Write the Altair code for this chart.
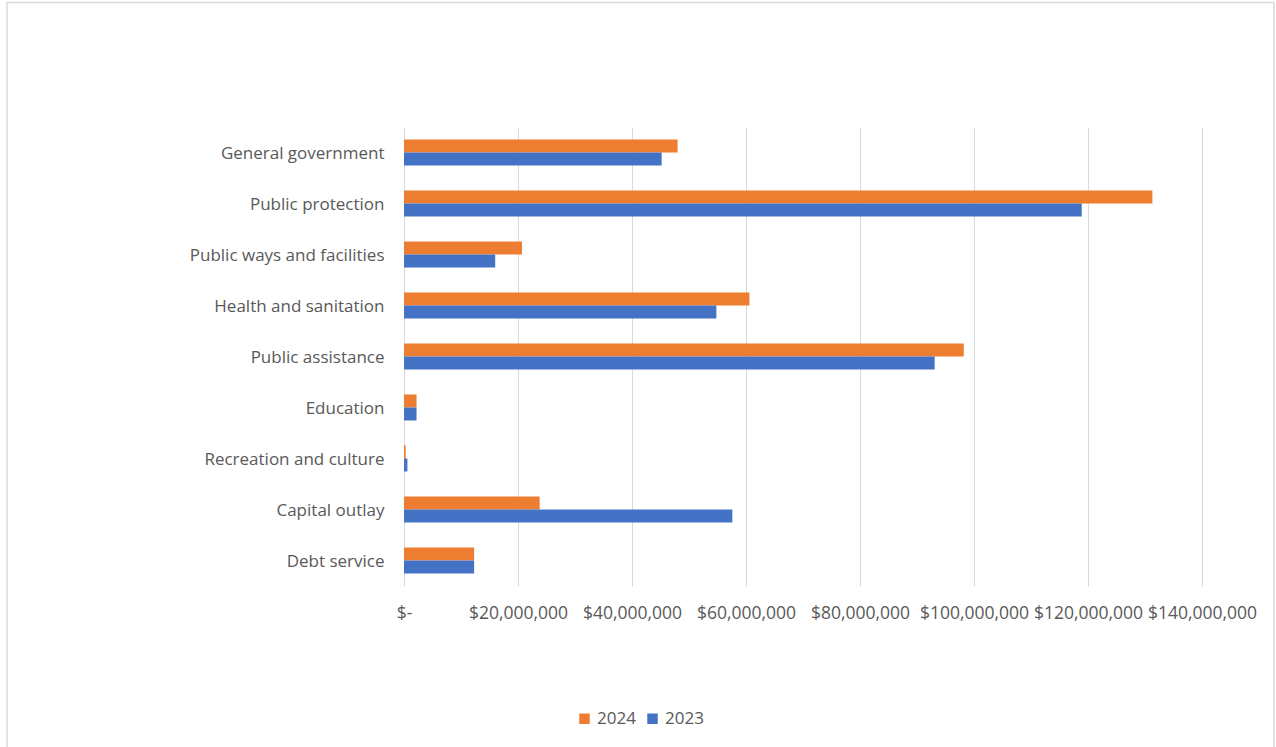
import altair as alt
import pandas as pd

categories = [
    "General government",
    "Public protection",
    "Public ways and facilities",
    "Health and sanitation",
    "Public assistance",
    "Education",
    "Recreation and culture",
    "Capital outlay",
    "Debt service",
]
values_2024 = [48.0e6, 131.3e6, 20.7e6, 60.6e6, 98.2e6, 2.2e6, 0.3e6, 23.8e6, 12.3e6]
values_2023 = [45.2e6, 118.9e6, 16.0e6, 54.8e6, 93.1e6, 2.2e6, 0.6e6, 57.6e6, 12.3e6]
years = ["2024", "2023"]
colors = ["#ED7D31", "#4472C4"]
x_ticks = [0, 20e6, 40e6, 60e6, 80e6, 100e6, 120e6, 140e6]

rows = []
for c, v24, v23 in zip(categories, values_2024, values_2023):
    rows.append({"category": c, "year": "2024", "value": v24})
    rows.append({"category": c, "year": "2023", "value": v23})
df = pd.DataFrame(rows)

W, H = 798, 459
PL, PT = 404, 127
PR = 1276 - PL - W
PB = 747 - PT - H

FONT = "Open Sans"
TXT = "#595959"

bars = alt.Chart(df).mark_bar().encode(
    y=alt.Y(
        "category:N",
        sort=categories,
        title=None,
        scale=alt.Scale(paddingInner=0.49, paddingOuter=0.245),
        axis=alt.Axis(
            domain=False, ticks=False, labelPadding=20, labelFontSize=17,
            labelFont=FONT, labelColor=TXT, labelLimit=300, labelOffset=1,
        ),
    ),
    yOffset=alt.YOffset("year:N", sort=years),
    x=alt.X(
        "value:Q",
        title=None,
        scale=alt.Scale(domain=[0, 140e6], nice=False),
        axis=alt.Axis(
            values=x_ticks,
            labelExpr="datum.value == 0 ? '$-' : '$' + format(datum.value, ',')",
            domain=False, ticks=False, grid=True, gridColor="#D9D9D9",
            labelPadding=18, labelFontSize=17.5, labelFont=FONT, labelColor=TXT,
            labelFlush=False, labelOverlap=False,
        ),
    ),
    color=alt.Color(
        "year:N",
        sort=years,
        scale=alt.Scale(domain=years, range=colors),
        legend=alt.Legend(
            title=None, orient="none", direction="horizontal",
            legendX=172, legendY=583, symbolType="square", symbolSize=110,
            symbolStrokeWidth=0, labelFontSize=17, labelFont=FONT,
            labelColor=TXT, columnPadding=8, labelOffset=4,
        ),
    ),
)

frame = alt.Chart(pd.DataFrame({"k": [0]})).mark_rect(
    fill=None, stroke="#D9D9D9", strokeWidth=1.5
).encode(
    x=alt.value(7 - PL),
    x2=alt.value(1274 - PL),
    y=alt.value(2.5 - PT),
    y2=alt.value(760 - PT),
)

chart = alt.layer(frame, bars).properties(
    width=W,
    height=H,
    background="white",
    autosize=alt.AutoSizeParams(type="none"),
    padding={"left": PL, "top": PT, "right": PR, "bottom": PB},
).configure_view(stroke=None)

chart.save("out.html", embed_options={"renderer": "svg", "actions": False})
